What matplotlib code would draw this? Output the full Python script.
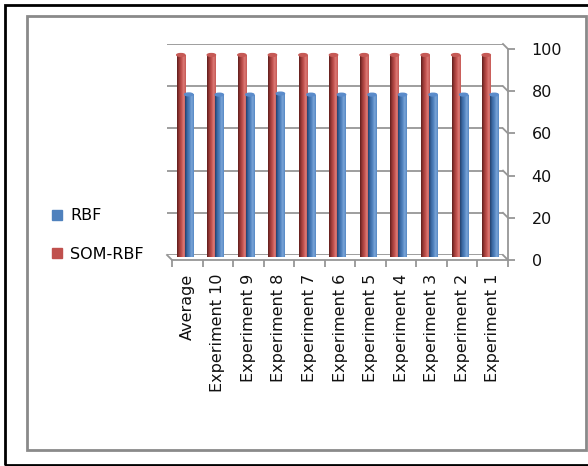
import numpy as np
import matplotlib.pyplot as plt
from matplotlib.patches import Rectangle, Ellipse, Patch
from matplotlib.lines import Line2D
from matplotlib.colors import LinearSegmentedColormap

plt.rcParams['font.family'] = ['DejaVu Sans']

categories = ['Average', 'Experiment 10', 'Experiment 9', 'Experiment 8', 'Experiment 7',
              'Experiment 6', 'Experiment 5', 'Experiment 4', 'Experiment 3',
              'Experiment 2', 'Experiment 1']
rbf = [77.3, 77.2, 77.2, 77.7, 77.2, 77.2, 77.2, 77.2, 77.2, 77.2, 77.2]
som_rbf = [96.0, 96.0, 96.0, 96.0, 96.0, 96.0, 96.0, 96.0, 96.0, 96.0, 96.0]
yticks = [0, 20, 40, 60, 80, 100]

W, H = 588, 466
fig = plt.figure(figsize=(W / 100, H / 100), dpi=100)

def px_box(x0, y0, x1, y1):
    # pixel box (top-left origin) -> figure fraction rect
    return [x0 / W, 1 - y1 / H, (x1 - x0) / W, (y1 - y0) / H]

# frames around the chart
fig.add_artist(Rectangle((5 / W, 1 - 465 / H), 600 / W, 460 / H, transform=fig.transFigure,
                         fill=False, ec='black', lw=2))
fig.add_artist(Rectangle((27 / W, 1 - 450 / H), 559 / W, 434 / H, transform=fig.transFigure,
                         fill=False, ec='#8a8a8a', lw=2))

# back wall, middle (bars) and front (axes) planes
dx, dy = 5, 5
back = fig.add_axes(px_box(167, 44, 503, 255))
mid = fig.add_axes(px_box(167 + dx / 2, 44 + dy / 2, 503 + dx / 2, 255 + dy / 2))
front = fig.add_axes(px_box(167 + dx, 44 + dy, 503 + dx, 255 + dy))

n = len(categories)
x = np.arange(n)
for a in (back, mid, front):
    a.set_xlim(-0.5, n - 0.5)
    a.set_ylim(0, 100)
    a.patch.set_alpha(0)

grid_c = '#969696'
back.set_axis_off()
for v in yticks:
    back.axhline(v, color=grid_c, lw=1.3)

# side wall and floor edges joining back and front
def fig_pt(ax, xv, yv):
    return fig.transFigure.inverted().transform(ax.transData.transform((xv, yv)))

for v in yticks:
    p0 = fig_pt(back, n - 0.5, v)
    p1 = fig_pt(front, n - 0.5, v)
    fig.add_artist(Line2D([p0[0], p1[0]], [p0[1], p1[1]], transform=fig.transFigure,
                          color=grid_c, lw=1.3))
p0 = fig_pt(back, -0.5, 0)
p1 = fig_pt(front, -0.5, 0)
fig.add_artist(Line2D([p0[0], p1[0]], [p0[1], p1[1]], transform=fig.transFigure,
                      color=grid_c, lw=1.3))

# cylinder bars with horizontal shading
red_cmap = LinearSegmentedColormap.from_list('r', ['#5e1e1c', '#9a3a37', '#c0504d', '#dc7a76', '#c65854'])
blue_cmap = LinearSegmentedColormap.from_list('b', ['#22406a', '#3c6aa3', '#4f81bd', '#7ba5d8', '#5688c4'])
grad = np.linspace(0, 1, 64).reshape(1, -1)
bw = 0.27
cap_h = 1.3

def draw_bars(vals, off, cmap, cap_color):
    bars = mid.bar(x + off, vals, width=bw, color='none', edgecolor='none')
    for b in bars:
        x0, w, h = b.get_x(), b.get_width(), b.get_height()
        im = mid.imshow(grad, extent=[x0, x0 + w, 0, h], aspect='auto', cmap=cmap,
                        interpolation='bilinear', zorder=2)
        im.set_clip_path(b)
        mid.add_patch(Ellipse((x0 + w / 2, h), w, cap_h, color=cap_color, zorder=3))

draw_bars(som_rbf, -0.13, red_cmap, '#c65a56')
draw_bars(rbf, 0.13, blue_cmap, '#5b8ccb')
mid.set_xlim(-0.5, n - 0.5)
mid.set_ylim(0, 100)
mid.set_axis_off()

# front axes: floor edge, right axis and labels
fs = 11.5
for s in ('left', 'top'):
    front.spines[s].set_visible(False)
for s in ('bottom', 'right'):
    front.spines[s].set_color(grid_c)
    front.spines[s].set_linewidth(1.3)
front.yaxis.tick_right()
front.set_yticks(yticks)
front.tick_params(axis='y', length=5, width=1.3, color=grid_c, pad=12, labelsize=fs,
                  labelcolor='#111111')
front.set_xticks(x)
front.set_xticklabels(categories, rotation=90, fontsize=fs, color='#111111')
front.set_xticks(np.arange(n + 1) - 0.5, minor=True)
front.tick_params(axis='x', which='major', length=0, pad=10)
front.tick_params(axis='x', which='minor', length=5, width=1.3, color=grid_c)

# legend
handles = [Patch(color='#4f81bd'), Patch(color='#c0504d')]
fig.legend(handles, ['RBF', 'SOM-RBF'], loc='center left', bbox_to_anchor=(44 / W, 1 - 235 / H),
           frameon=False, fontsize=fs, handlelength=0.62, handleheight=0.62,
           handletextpad=0.5, labelspacing=1.45, borderpad=0)

fig.savefig('out.png', dpi=100)
